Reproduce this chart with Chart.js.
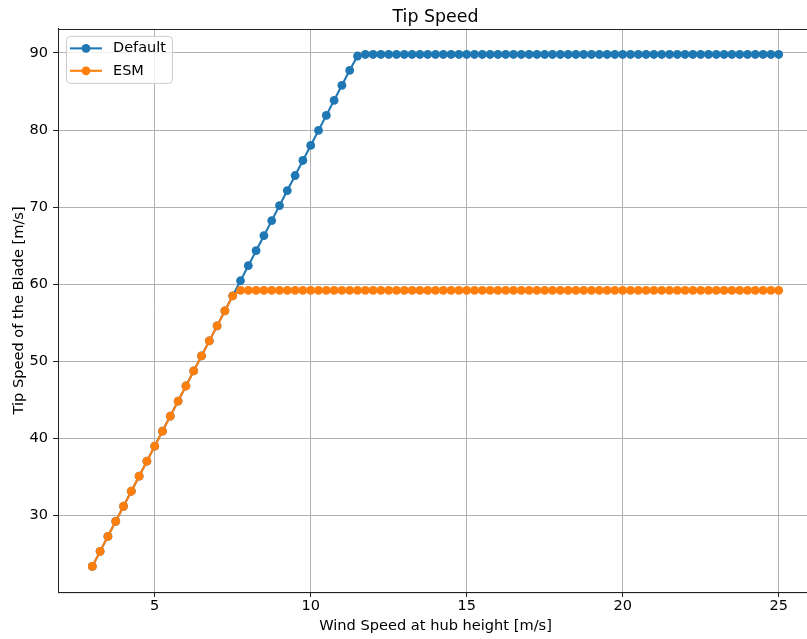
<!DOCTYPE html>
<html><head><meta charset="utf-8">
<script src="https://cdn.jsdelivr.net/npm/chart.js@4.4.1/dist/chart.umd.min.js"></script>
<style>
html,body{margin:0;padding:0;overflow:hidden;background:#fff;width:807px;height:639px}
#wrap{width:830px;height:639px}
</style>
</head><body><div id="wrap"><canvas id="c" width="830" height="639"></canvas></div>
<script>
const windSpeed = [3,3.25,3.5,3.75,4,4.25,4.5,4.75,5,5.25,5.5,5.75,6,6.25,6.5,6.75,7,7.25,7.5,7.75,
  8,8.25,8.5,8.75,9,9.25,9.5,9.75,10,10.25,10.5,10.75,11,11.25,11.5,11.75,12,12.25,12.5,12.75,
  13,13.25,13.5,13.75,14,14.25,14.5,14.75,15,15.25,15.5,15.75,16,16.25,16.5,16.75,17,17.25,17.5,17.75,
  18,18.25,18.5,18.75,19,19.25,19.5,19.75,20,20.25,20.5,20.75,21,21.25,21.5,21.75,22,22.25,22.5,22.75,
  23,23.25,23.5,23.75,24,24.25,24.5,24.75,25];
const tipDefault = [23.4,25.35,27.3,29.25,31.2,33.15,35.1,37.05,39.0,40.95,42.9,44.85,46.8,48.75,50.7,52.65,54.6,56.55,58.5,
  60.45,62.4,64.35,66.3,68.25,70.2,72.15,74.1,76.05,78.0,79.95,81.9,83.85,85.8,87.75,89.6,
  89.8,89.8,89.8,89.8,89.8,89.8,89.8,89.8,89.8,
  89.8,89.8,89.8,89.8,89.8,89.8,89.8,89.8,89.8,
  89.8,89.8,89.8,89.8,89.8,89.8,89.8,89.8,89.8,
  89.8,89.8,89.8,89.8,89.8,89.8,89.8,89.8,89.8,
  89.8,89.8,89.8,89.8,89.8,89.8,89.8,89.8,89.8,
  89.8,89.8,89.8,89.8,89.8,89.8,89.8,89.8,89.8];
const tipESM = [23.4,25.35,27.3,29.25,31.2,33.15,35.1,37.05,39.0,40.95,42.9,44.85,46.8,48.75,50.7,52.65,54.6,56.55,58.5,
  59.2,59.2,59.2,59.2,59.2,59.2,59.2,59.2,59.2,59.2,
  59.2,59.2,59.2,59.2,59.2,59.2,59.2,59.2,59.2,59.2,
  59.2,59.2,59.2,59.2,59.2,59.2,59.2,59.2,59.2,59.2,
  59.2,59.2,59.2,59.2,59.2,59.2,59.2,59.2,59.2,59.2,
  59.2,59.2,59.2,59.2,59.2,59.2,59.2,59.2,59.2,59.2,
  59.2,59.2,59.2,59.2,59.2,59.2,59.2,59.2,59.2,59.2,
  59.2,59.2,59.2,59.2,59.2,59.2,59.2,59.2,59.2,59.2];
const xTickValues = [5,10,15,20,25];
const yTickValues = [30,40,50,60,70,80,90];
const seriesLabels = ['Default','ESM'];
const seriesColors = ['#1f77b4','#ff7f0e'];
const chartTitle = 'Tip Speed';
const xAxisTitle = 'Wind Speed at hub height [m/s]';
const yAxisTitle = 'Tip Speed of the Blade [m/s]';

Chart.defaults.font.family = '"DejaVu Sans", sans-serif';
Chart.defaults.color = '#000';

const toPts = ys => windSpeed.map((x, i) => ({x: x, y: ys[i]}));

const mplDecor = {
  id: 'mplDecor',
  afterDraw(chart) {
    const ctx = chart.ctx, a = chart.chartArea;
    ctx.save();
    // frame (spines)
    ctx.strokeStyle = '#222'; ctx.lineWidth = 1;
    ctx.strokeRect(Math.round(a.left) + 0.5, Math.round(a.top) + 0.5, a.right - a.left, a.bottom - a.top);
    // legend
    const bx = a.left + 8, by = a.top + 7, bw = 106, bh = 47;
    ctx.beginPath();
    ctx.roundRect(bx + 0.5, by + 0.5, bw, bh, 4);
    ctx.fillStyle = 'rgba(255,255,255,0.8)'; ctx.fill();
    ctx.strokeStyle = '#cccccc'; ctx.lineWidth = 1; ctx.stroke();
    chart.data.datasets.forEach((ds, i) => {
      const y = by + 12.5 + i * 22.4;
      ctx.strokeStyle = ds.borderColor; ctx.lineWidth = 2.08;
      ctx.beginPath(); ctx.moveTo(bx + 4, y); ctx.lineTo(bx + 36, y); ctx.stroke();
      ctx.fillStyle = ds.borderColor;
      ctx.beginPath(); ctx.arc(bx + 20, y, 4.4, 0, Math.PI * 2); ctx.fill();
      ctx.fillStyle = '#000'; ctx.font = '14.5px "DejaVu Sans"';
      ctx.textBaseline = 'middle'; ctx.textAlign = 'left';
      ctx.fillText(ds.label, bx + 47, y);
    });
    ctx.restore();
  }
};

const gridOpts = {color: '#b0b0b0', lineWidth: 1, tickColor: '#222', tickLength: 5, tickWidth: 1};

new Chart(document.getElementById('c'), {
  type: 'line',
  data: {
    datasets: [
      {label: seriesLabels[0], data: toPts(tipDefault), borderColor: seriesColors[0], backgroundColor: seriesColors[0],
       pointBackgroundColor: seriesColors[0], borderWidth: 2.08, pointRadius: 4.4, pointBorderWidth: 0, tension: 0, order: 2},
      {label: seriesLabels[1], data: toPts(tipESM), borderColor: seriesColors[1], backgroundColor: seriesColors[1],
       pointBackgroundColor: seriesColors[1], borderWidth: 2.08, pointRadius: 4.4, pointBorderWidth: 0, tension: 0, order: 1}
    ]
  },
  options: {
    responsive: false, animation: false, devicePixelRatio: 1,
    layout: {padding: {left: 0, right: 17, top: 0, bottom: 0}},
    plugins: {
      legend: {display: false},
      tooltip: {enabled: false},
      title: {display: true, text: chartTitle, fullSize: false, color: '#000',
        font: {size: 17.4, weight: 'normal'}, padding: {top: 7, bottom: 1}}
    },
    scales: {
      x: {
        type: 'linear', min: 1.9, max: 26.1,
        afterBuildTicks: s => { s.ticks = xTickValues.map(v => ({value: v})); },
        afterFit: s => { s.height = 47; },
        grid: gridOpts,
        border: {color: '#222', width: 1},
        ticks: {padding: 1, font: {size: 14.5}, color: '#000', maxRotation: 0, autoSkip: false},
        title: {display: true, text: xAxisTitle, font: {size: 14.6}, color: '#000', padding: {top: 0, bottom: 4}}
      },
      y: {
        type: 'linear', min: 20.08, max: 93.12,
        afterBuildTicks: s => { s.ticks = yTickValues.map(v => ({value: v})); },
        afterFit: s => { s.width = 58; },
        grid: gridOpts,
        border: {color: '#222', width: 1},
        ticks: {padding: 5, font: {size: 14.5}, color: '#000', autoSkip: false},
        title: {display: true, text: yAxisTitle, font: {size: 14.6}, color: '#000', padding: {top: 10, bottom: 0}}
      }
    }
  },
  plugins: [mplDecor]
});
</script>
</body></html>
